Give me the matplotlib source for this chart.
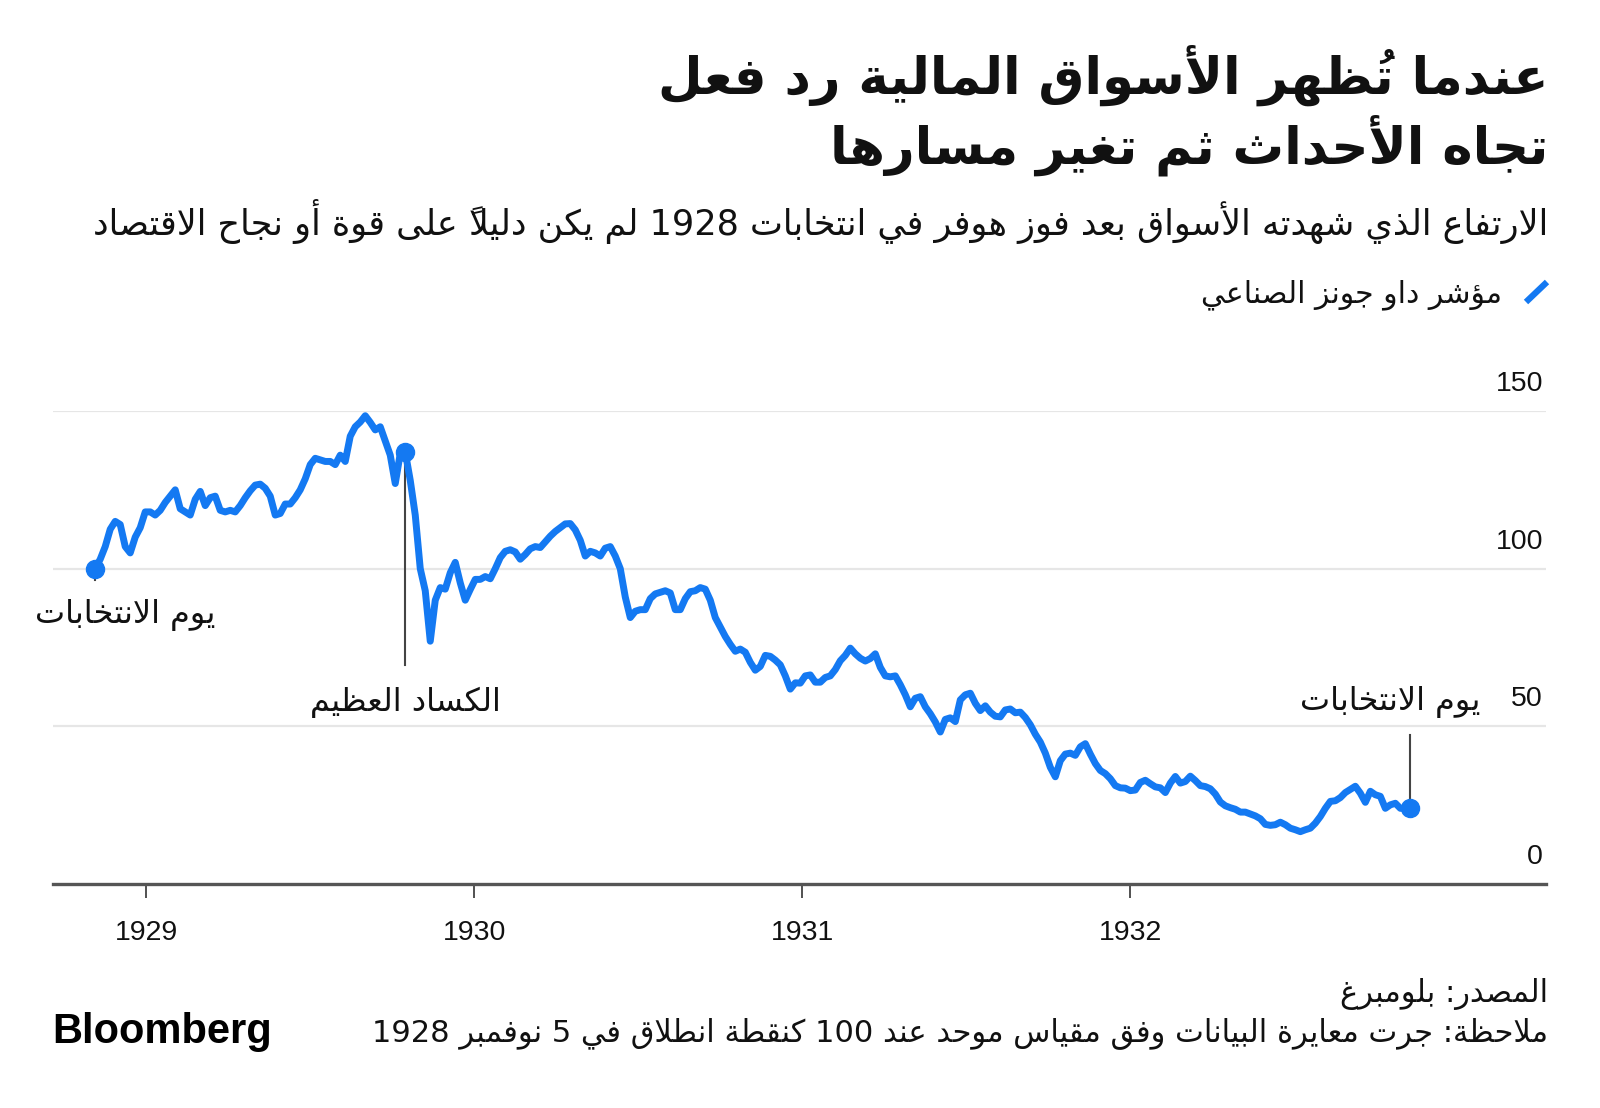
import re
import matplotlib
matplotlib.use('Agg')
import matplotlib.pyplot as plt
import matplotlib.transforms as mtransforms
import pandas as pd

# ---- text ----
title_lines = ['عندما تُظهر الأسواق المالية رد فعل', 'تجاه الأحداث ثم تغير مسارها']
subtitle = 'الارتفاع الذي شهدته الأسواق بعد فوز هوفر في انتخابات 1928 لم يكن دليلاً على قوة أو نجاح الاقتصاد'
legend_label = 'مؤشر داو جونز الصناعي'
election_label = 'يوم الانتخابات'
crash_label = 'الكساد العظيم'
source = 'المصدر: بلومبرغ'
note = 'ملاحظة: جرت معايرة البيانات وفق مقياس موحد عند 100 كنقطة انطلاق في 5 نوفمبر 1928'

# ---- data: Dow Jones Industrial, indexed to 100 on 5 Nov 1928 ----
start, end = '1928-11-05', '1932-11-08'
crash_date = '1929-10-16'
dow = [
    100, 103, 107, 112.5, 115, 114, 107, 105, 110, 113,
    118, 118, 117, 118.5, 121, 123, 125, 119, 118, 117,
    122, 124.5, 120, 122.5, 123, 118.5, 118, 118.5, 118, 120,
    122.5, 124.7, 126.5, 126.8, 125.5, 123, 117, 117.5, 120.5, 120.5,
    122.5, 125, 128.5, 133, 135, 134.5, 134, 134, 133, 136,
    134, 142, 145, 146.5, 148.5, 146.4, 144, 145, 140.5, 136,
    127, 136.5, 137, 128, 117, 100, 93, 77, 90, 94,
    93.5, 98.7, 102, 95.5, 90, 93.4, 96.6, 96.6, 97.5, 96.8,
    100, 103.5, 105.5, 106, 105.3, 103, 104.5, 106.3, 107, 106.7,
    108.5, 110.3, 111.8, 113, 114.2, 114.3, 112.3, 109, 104, 105.5,
    105, 104, 106.5, 107, 104, 100, 91, 84.5, 86.5, 87,
    87, 90.5, 92, 92.5, 93, 92.3, 87, 87, 90.5, 92.7,
    93, 94, 93.5, 90, 84.5, 81.5, 78.5, 76, 73.8, 74.5,
    73.5, 70.3, 67.8, 69, 72.5, 72.2, 71, 69.5, 66, 61.8,
    63.8, 63.7, 66, 66.3, 64, 64, 65.5, 66, 68, 70.8,
    72.5, 74.8, 73, 71.6, 70.7, 71.5, 73, 68.7, 66, 65.7,
    66, 63.2, 60, 56.2, 58.9, 59.4, 56.2, 54, 51.4, 48.2,
    52.2, 52.7, 51.5, 58.4, 60, 60.5, 57.3, 55, 56.5, 54.5,
    53.2, 53, 55.2, 55.5, 54.3, 54.5, 52.8, 50.5, 47.5, 45,
    41.5, 37, 34, 39.1, 41.2, 41.5, 40.8, 43.5, 44.5, 41.2,
    38.2, 36, 35, 33.4, 31.2, 30.5, 30.4, 29.6, 29.8, 32.2,
    32.9, 31.8, 30.8, 30.5, 29, 32, 34.1, 32, 32.5, 34.2,
    32.8, 31.2, 30.9, 30.2, 28.5, 26, 24.8, 24.2, 23.7, 22.8,
    22.8, 22.2, 21.6, 20.7, 18.9, 18.6, 18.8, 19.6, 18.8, 17.7,
    17.2, 16.6, 17.2, 17.7, 19.3, 21.4, 24, 26.2, 26.4, 27.4,
    29, 30, 31, 28.8, 25.9, 29.4, 28.3, 27.8, 24, 25.1,
    25.6, 24, 24, 24,
]
y_ticks = [0, 50, 100, 150]
x_years = ['1929', '1930', '1931', '1932']

BLUE = '#1479f2'
DARK = '#111111'

# ---- minimal arabic shaping (presentation forms + visual order) ----
LETTERS = 'ءآأؤإئابةتثجحخدذرزسشصضطظعغفقكلمنهوىي'
NFORMS = [1, 2, 2, 2, 2, 4, 2, 4, 2, 4, 4, 4, 4, 4, 2, 2, 2, 2, 4, 4,
          4, 4, 4, 4, 4, 4, 4, 4, 4, 4, 4, 4, 4, 2, 2, 4]
FORMS = {}
cp = 0xFE80
for ch, n in zip(LETTERS, NFORMS):
    FORMS[ch] = (cp, n)
    cp += n
LAM_ALEF = {'آ': 0xFEF5, 'أ': 0xFEF7, 'إ': 0xFEF9, 'ا': 0xFEFB}
MARKS = set(chr(c) for c in range(0x064B, 0x0653))


def shape(text):
    res = []
    prev_dual = False
    i = 0
    while i < len(text):
        ch = text[i]
        if ch in MARKS:
            res.append(ch)
            i += 1
            continue
        if ch not in FORMS:
            res.append(ch)
            prev_dual = False
            i += 1
            continue
        j = i + 1
        while j < len(text) and text[j] in MARKS:
            j += 1
        nxt = text[j] if j < len(text) else None
        if ch == 'ل' and nxt in LAM_ALEF:
            res.append(chr(LAM_ALEF[nxt] + (1 if prev_dual else 0)))
            res.extend(text[i + 1:j])
            i = j + 1
            prev_dual = False
            continue
        base, nf = FORMS[ch]
        next_joins = nxt in FORMS and FORMS[nxt][1] > 1
        if nf == 4:
            form = {(True, True): 3, (True, False): 1,
                    (False, True): 2, (False, False): 0}[(prev_dual, next_joins)]
        elif nf == 2:
            form = 1 if prev_dual else 0
        else:
            form = 0
        res.append(chr(base + form))
        prev_dual = nf == 4
        i += 1
    return ''.join(res)


def ar(text):
    tokens = re.findall(r'[0-9A-Za-z.]+|.[\u064B-\u0652]*', shape(text))
    # marks go in front of their base so they land over it
    tokens = [t[1:] + t[0] if len(t) > 1 and t[1] in MARKS else t for t in tokens]
    return ''.join(reversed(tokens))


AR_FONT = ['DejaVu Sans']
NUM_FONT = ['Liberation Sans', 'DejaVu Sans']

W, H = 1600, 1108
fig = plt.figure(figsize=(W / 100, H / 100), dpi=100)


def fx(px):
    return px / W


def fy(py):
    return 1 - py / H


# ---- header ----
fig.text(fx(1548), fy(94), ar(title_lines[0]), ha='right', va='baseline',
         fontsize=37, fontweight='bold', family=AR_FONT, color=DARK)
fig.text(fx(1548), fy(163), ar(title_lines[1]), ha='right', va='baseline',
         fontsize=37, fontweight='bold', family=AR_FONT, color=DARK)
fig.text(fx(1548), fy(235), ar(subtitle), ha='right', va='baseline',
         fontsize=25.2, family=AR_FONT, color=DARK)
fig.add_artist(plt.Line2D([fx(1526), fx(1547)], [fy(302), fy(282)],
                          color=BLUE, lw=4.5, solid_capstyle='butt'))
fig.text(fx(1502), fy(302), ar(legend_label), ha='right', va='baseline',
         fontsize=21.5, family=AR_FONT, color=DARK)

# ---- chart ----
ax = fig.add_axes([fx(53), 1 - 884 / H, (1546 - 53) / W, (884 - 411) / H])
dates = pd.date_range(start, end, periods=len(dow))
ax.plot(dates, dow, color=BLUE, lw=5, solid_joinstyle='round',
        solid_capstyle='round', zorder=3)

crash_idx = int(abs(dates - pd.Timestamp(crash_date)).argmin())
for i in (0, crash_idx, len(dow) - 1):
    ax.plot(dates[i], dow[i], 'o', ms=13, color=BLUE, zorder=4)

ax.set_xlim(pd.Timestamp('1928-09-19'), pd.Timestamp('1933-04-08'))
ax.set_ylim(0, 150)
for v in y_ticks[1:]:
    ax.axhline(v, color='#e6e6e6', lw=1.6, zorder=0)

lab_trans = mtransforms.offset_copy(
    mtransforms.blended_transform_factory(ax.transAxes, ax.transData),
    fig=fig, y=14.5, units='points')
for v in y_ticks:
    ax.text(0.998, v, str(v), transform=lab_trans, ha='right', va='baseline',
            fontsize=20.5, family=NUM_FONT, color=DARK)

ax.set_yticks([])
ax.set_xticks(pd.to_datetime([y + '-01-01' for y in x_years]))
ax.set_xticklabels(x_years, family=NUM_FONT)
ax.tick_params(axis='x', length=10, width=1.2, color='#333333', pad=16,
               labelsize=20.5, labelcolor=DARK)
for s in ('top', 'left', 'right'):
    ax.spines[s].set_visible(False)
ax.spines['bottom'].set_color('#555555')
ax.spines['bottom'].set_linewidth(2.4)

# annotations
ann = dict(color='#444444', lw=1.5, zorder=2)
ax.plot([dates[0], dates[0]], [dow[0], 96.5], **ann)
ax.text(pd.Timestamp('1928-12-08'), 85.3, ar(election_label), ha='center',
        va='center', fontsize=23, family=AR_FONT, color=DARK)

cd = dates[crash_idx]
ax.plot([cd, cd], [dow[crash_idx], 69.6], **ann)
ax.text(cd, 57.7, ar(crash_label), ha='center', va='center', fontsize=23,
        family=AR_FONT, color=DARK)

ed = dates[-1]
ax.plot([ed, ed], [dow[-1], 47.3], **ann)
ax.text(pd.Timestamp('1933-01-25'), 57.7, ar(election_label), ha='right',
        va='center', fontsize=23, family=AR_FONT, color=DARK)

# ---- footer ----
fig.text(fx(1548), fy(1002), ar(source), ha='right', va='baseline',
         fontsize=22, family=AR_FONT, color=DARK)
fig.text(fx(1548), fy(1041), ar(note), ha='right', va='baseline',
         fontsize=22, family=AR_FONT, color=DARK)
fig.text(fx(52), fy(1043), 'Bloomberg', ha='left', va='baseline',
         fontsize=30, fontweight='bold', family=NUM_FONT, color='#000000')

fig.savefig('out.png', dpi=100, facecolor='white')
